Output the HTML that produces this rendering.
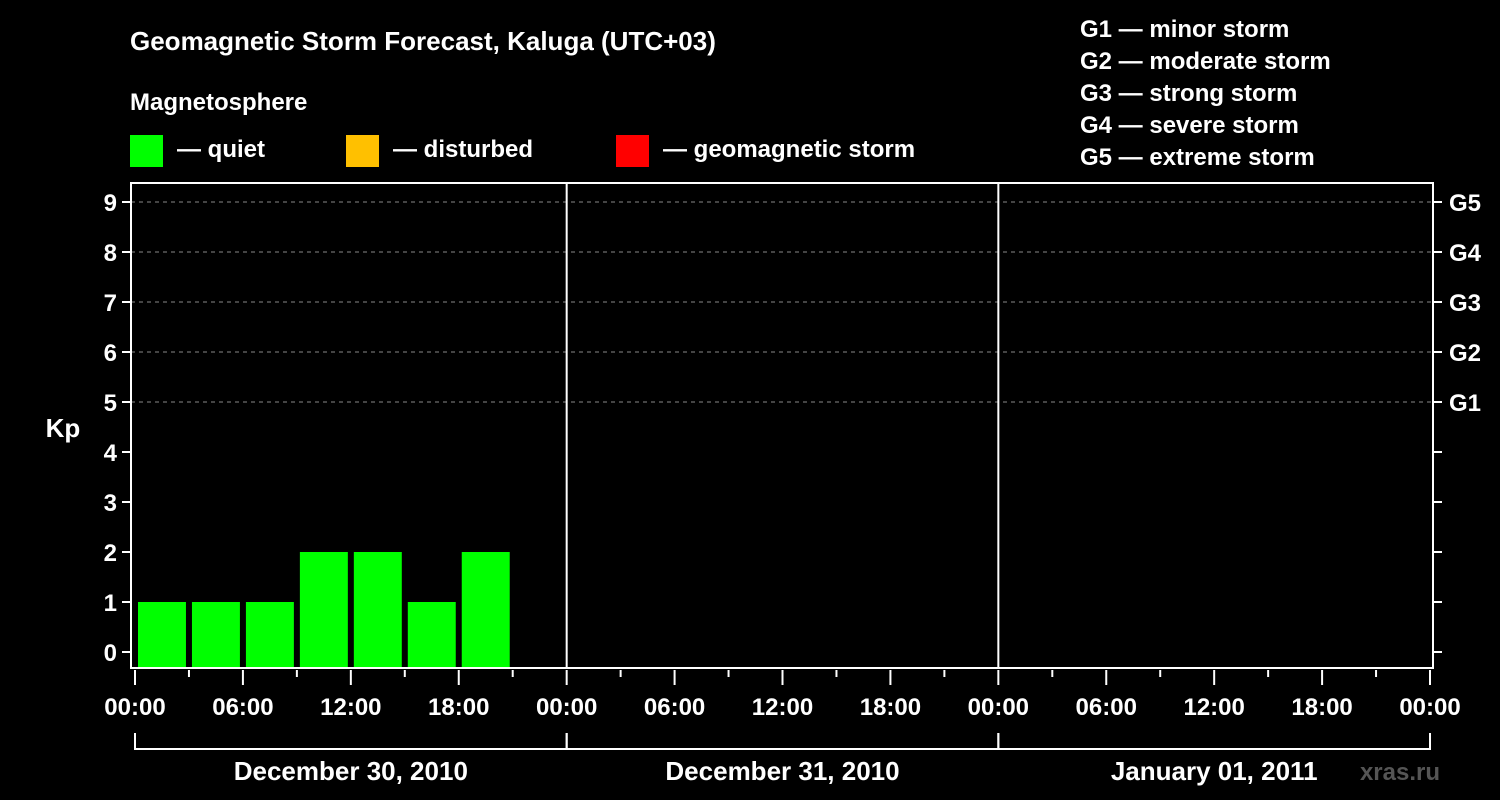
<!DOCTYPE html>
<html><head><meta charset="utf-8"><style>
html,body{margin:0;padding:0;background:#000;}
svg{display:block;font-family:"Liberation Sans",Arial,sans-serif;font-weight:bold;}
</style></head><body>
<svg id="chart" width="1500" height="800" viewBox="0 0 1500 800" xmlns="http://www.w3.org/2000/svg">
<rect width="1500" height="800" fill="#000"/>
<text x="130" y="50" fill="#fff" font-size="26">Geomagnetic Storm Forecast, Kaluga (UTC+03)</text>
<text x="130" y="110" fill="#fff" font-size="24">Magnetosphere</text>
<g>
<rect x="130" y="135" width="33" height="32" fill="#00ff00"/>
<text x="177" y="157" fill="#fff" font-size="24">— quiet</text>
<rect x="346" y="135" width="33" height="32" fill="#ffc000"/>
<text x="393" y="157" fill="#fff" font-size="24">— disturbed</text>
<rect x="616" y="135" width="33" height="32" fill="#ff0000"/>
<text x="663" y="157" fill="#fff" font-size="24">— geomagnetic storm</text>
</g>
<g font-size="24" fill="#fff">
<text x="1080" y="37">G1 — minor storm</text>
<text x="1080" y="69">G2 — moderate storm</text>
<text x="1080" y="101">G3 — strong storm</text>
<text x="1080" y="133">G4 — severe storm</text>
<text x="1080" y="165">G5 — extreme storm</text>
</g>
<text x="63" y="437" fill="#fff" font-size="26" text-anchor="middle">Kp</text>
<text x="1440" y="780" fill="#555" font-size="24" text-anchor="end">xras.ru</text>
<g id="plot"></g>
</svg>
<script>
const kpValues = [1, 1, 1, 2, 2, 1, 2];
const yTicks = [0,1,2,3,4,5,6,7,8,9];
const gLevels = ["G1","G2","G3","G4","G5"];
const gKp = [5,6,7,8,9];
const hourLabels = ["00:00","06:00","12:00","18:00","00:00","06:00","12:00","18:00","00:00","06:00","12:00","18:00","00:00"];
const dayLabels = ["December 30, 2010","December 31, 2010","January 01, 2011"];

const NS="http://www.w3.org/2000/svg";
const g=document.getElementById('plot');
const X0=135, DAYW=431.67, Y0=652, UNIT=50, TOP=183, BOT=668, L=131, R=1433;
const x=h=>X0+h*DAYW/24;
const y=v=>Y0-v*UNIT;
function mk(tag,attrs){const e=document.createElementNS(NS,tag);for(const k in attrs)e.setAttribute(k,attrs[k]);g.appendChild(e);return e;}

yTicks.forEach(v=>{
  if(v>=5){const ln=mk('line',{x1:L,x2:R,y1:y(v),y2:y(v),stroke:'#888','stroke-width':1,'stroke-dasharray':'4,4'});
  
  }
  const t=mk('line',{x1:L-9,x2:L,y1:y(v),y2:y(v),stroke:'#fff','stroke-width':2});
  
  
  const rt=mk('line',{x1:R,x2:R+9,y1:y(v),y2:y(v),stroke:'#fff','stroke-width':2});
  
  
  const lb=mk('text',{x:L-14,y:y(v)+9,fill:'#fff','font-size':24,'text-anchor':'end'});
  lb.textContent=v;
  
  
});
gLevels.forEach((gl,i)=>{
  const lb=mk('text',{x:R+16,y:y(gKp[i])+9,fill:'#fff','font-size':24});
  lb.textContent=gl;
  
  
});
kpValues.forEach((v,i)=>{
  const col=v>=5?'#ff0000':(v>=4?'#ffc000':'#00ff00');
  const b=mk('rect',{x:x(i*3)+3,y:y(v),width:x(3)-x(0)-6,height:BOT-y(v),fill:col});
  
  
});
const fr=mk('rect',{x:L,y:TOP,width:R-L,height:BOT-TOP,fill:'none',stroke:'#fff','stroke-width':2});


[1,2].forEach(d=>{
  const ln=mk('line',{x1:x(d*24),x2:x(d*24),y1:TOP,y2:BOT,stroke:'#fff','stroke-width':2});
  
  
});
for(let h=0;h<=72;h+=3){
  const major=h%6===0;
  const t=mk('line',{x1:x(h),x2:x(h),y1:BOT+2,y2:BOT+(major?17:9),stroke:'#fff','stroke-width':2});
  
  
}
hourLabels.forEach((s,i)=>{
  const lb=mk('text',{x:x(i*6),y:715,fill:'#fff','font-size':24,'text-anchor':'middle'});
  lb.textContent=s;
  
  
});
dayLabels.forEach((s,d)=>{
  const p=mk('path',{d:`M${x(d*24)},733 V749 H${x(d*24+24)} V733`,fill:'none',stroke:'#fff','stroke-width':2});
  
  
  const lb=mk('text',{x:x(d*24+12),y:780,fill:'#fff','font-size':26,'text-anchor':'middle'});
  lb.textContent=s;
  
  
});
</script>
</body></html>
